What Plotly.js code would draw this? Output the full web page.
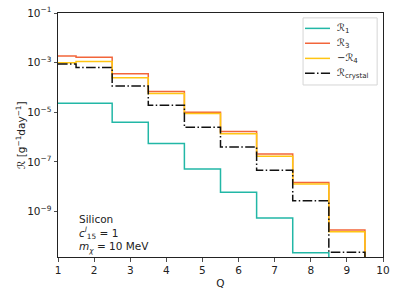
<!DOCTYPE html>
<html>
<head>
<meta charset="utf-8">
<script src="https://cdn.plot.ly/plotly-3.0.1.min.js"></script>
<style>html,body{margin:0;padding:0;background:#fff;}#plot{width:399px;height:299px;}</style>
</head>
<body>
<div id="plot"></div>
<script>
// Q bins (step plot, steps centred on integer Q)
const Q = [1, 2, 3, 4, 5, 6, 7, 8, 9, 10];
// rates in g^-1 day^-1 (1e-14 stands for "zero / off-scale")
const R1 = [2.3e-5, 2.3e-5, 4.0e-6, 5.5e-7, 5.2e-8, 6.0e-9, 5.5e-10, 2.2e-11, 1e-14, 1e-14];
const R3 = [1.86e-3, 1.66e-3, 3.6e-4, 6.9e-5, 1.0e-5, 1.7e-6, 2.1e-7, 1.5e-8, 1.8e-10, 1e-14];
const minusR4 = [1.0e-3, 1.1e-3, 2.45e-4, 5.7e-5, 8.9e-6, 1.35e-6, 1.7e-7, 1.3e-8, 1.55e-10, 1e-14];
const Rcrystal = [8.9e-4, 6.3e-4, 1.15e-4, 1.9e-5, 2.5e-6, 4.0e-7, 4.6e-8, 2.7e-9, 2.3e-11, 1e-14];
const seriesNames = ["ℛ<sub>1</sub>", "ℛ<sub>3</sub>", "−ℛ<sub>4</sub>", "ℛ<sub>crystal</sub>"];
const yTickVals = [1e-9, 1e-7, 1e-5, 1e-3, 1e-1];
const yTickText = ["10<sup>−9</sup>", "10<sup>−7</sup>", "10<sup>−5</sup>", "10<sup>−3</sup>", "10<sup>−1</sup>"];
const xTickVals = [1, 2, 3, 4, 5, 6, 7, 8, 9, 10];

const font = "DejaVu Sans, sans-serif";
const colors = ["#22b7a6", "#f2653a", "#ffc513", "#111111"];
const dashes = ["solid", "solid", "solid", "9.6px,2.4px,1.5px,2.4px"];
const ys = [R1, R3, minusR4, Rcrystal];

const traces = ys.map((y, i) => ({
  x: Q, y: y, type: "scatter", mode: "lines", name: seriesNames[i],
  line: {shape: "hvh", color: colors[i], width: 1.5, dash: dashes[i]}
}));

// manual legend (compact, like matplotlib)
const legX0 = 0.76, legX1 = 0.837, legTx = 0.853;
const legY = [0.937, 0.876, 0.814, 0.753];
const shapes = [{
  type: "rect", xref: "paper", yref: "paper", x0: 0.754, x1: 0.982, y0: 0.705, y1: 0.980,
  line: {color: "#d5d5d5", width: 1}, fillcolor: "rgba(255,255,255,0.9)", layer: "above"
}];
const annotations = [];
seriesNames.forEach((nm, i) => {
  shapes.push({type: "line", xref: "paper", yref: "paper", x0: legX0, x1: legX1, y0: legY[i], y1: legY[i],
    line: {color: colors[i], width: 1.5, dash: dashes[i]}, layer: "above"});
  annotations.push({xref: "paper", yref: "paper", x: legTx, y: legY[i], xanchor: "left", yanchor: "middle",
    showarrow: false, text: nm, font: {family: font, size: 10, color: "#222"}});
});
annotations.push({
  xref: "paper", yref: "paper", x: 0.058, y: 0.19, xanchor: "left", yanchor: "top",
  showarrow: false, align: "left",
  text: "Silicon<br><i>c</i><sup><i>l</i></sup><sub>15</sub> = 1<br><i>m<sub>χ</sub></i> = 10 MeV",
  font: {family: font, size: 10.5, color: "#222"}
});
// y-axis title placed like matplotlib's ylabel
annotations.push({
  xref: "paper", yref: "paper", x: -0.117, y: 0.5, xanchor: "center", yanchor: "middle",
  showarrow: false, textangle: -90,
  text: "ℛ [g<sup>−1</sup>day<sup>−1</sup>]", font: {family: font, size: 10.5, color: "#222"}
});

const layout = {
  width: 399, height: 299,
  margin: {l: 58, r: 16, t: 13, b: 42},
  paper_bgcolor: "#fff", plot_bgcolor: "#fff",
  font: {family: font, size: 10.5, color: "#222"},
  showlegend: false,
  xaxis: {
    range: [1, 10], tickvals: xTickVals, ticks: "outside", ticklen: 3.5, tickwidth: 0.8,
    tickcolor: "#222", showline: true, linecolor: "#222", linewidth: 1, mirror: true,
    showgrid: false, zeroline: false,
    title: {text: "Q", font: {family: font, size: 10.5}, standoff: 4}
  },
  yaxis: {
    type: "log", range: [-10.83, -1], tickvals: yTickVals, ticktext: yTickText,
    ticks: "outside", ticklen: 3.5, tickwidth: 0.8, tickcolor: "#222",
    showline: true, linecolor: "#222", linewidth: 1, mirror: true,
    showgrid: false, zeroline: false
  },
  shapes: shapes,
  annotations: annotations
};

Plotly.newPlot("plot", traces, layout, {staticPlot: true, displayModeBar: false});
</script>
</body>
</html>
